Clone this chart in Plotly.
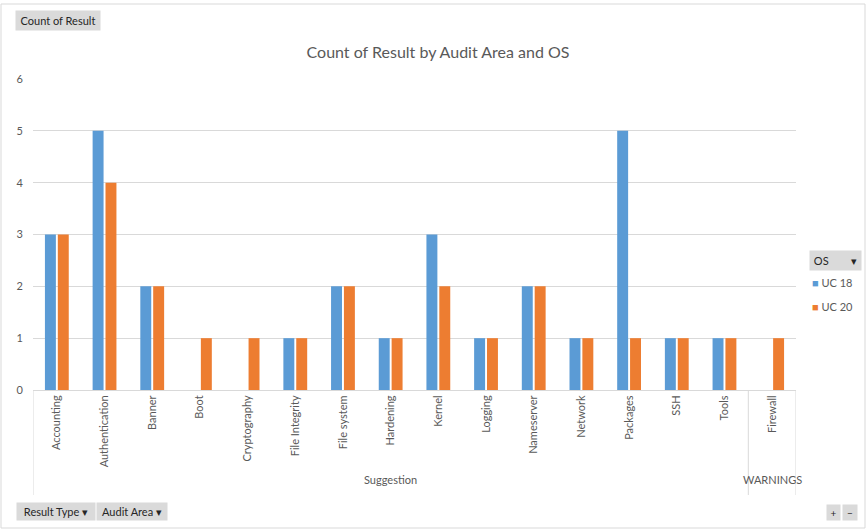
import plotly.graph_objects as go

categories = ["Accounting", "Authentication", "Banner", "Boot", "Cryptography",
              "File Integrity", "File system", "Hardening", "Kernel", "Logging",
              "Nameserver", "Network", "Packages", "SSH", "Tools", "Firewall"]
groups = ["Suggestion"] * 15 + ["WARNINGS"]
uc18 = [3, 5, 2, None, None, 1, 2, 1, 3, 1, 2, 1, 5, 1, 1, None]
uc20 = [3, 4, 2, 1, 1, 1, 2, 1, 2, 1, 2, 1, 1, 1, 1, 1]
series_names = ["UC 18", "UC 20"]
colors = ["#5B9BD5", "#ED7D31"]
y_ticks = [0, 1, 2, 3, 4, 5, 6]

W, H = 867, 530
L, R, T, B = 33, 796, 79, 390
pw, ph = R - L, B - T

def px(x):
    return (x - L) / pw

def py(y):
    return (B - y) / ph

FONT = "Lato, 'Open Sans', sans-serif"
TXT = "#595959"

fig = go.Figure()
for name, vals, c in zip(series_names, [uc18, uc20], colors):
    fig.add_trace(go.Bar(x=categories, y=vals, name=name, marker_color=c,
                         marker_line_width=0, showlegend=False))

shapes = []
# group dividers below the category axis
for xv in [-0.5, len(categories) - 1.5, len(categories) - 0.5]:
    shapes.append(dict(type="line", xref="x", yref="paper", x0=xv, x1=xv,
                       y0=0, y1=py(495), line=dict(color="#D9D9D9", width=1)))
# outer chart border
shapes.append(dict(type="rect", xref="paper", yref="paper",
                   x0=px(1), x1=px(865), y0=py(4), y1=py(528),
                   line=dict(color="#D9D9D9", width=1), fillcolor="rgba(0,0,0,0)"))

annotations = []
# group labels
n_sug = groups.count("Suggestion")
annotations.append(dict(text="Suggestion", xref="x", yref="paper",
                        x=(n_sug - 1) / 2, y=py(488), showarrow=False,
                        font=dict(family=FONT, size=11, color=TXT)))
annotations.append(dict(text="WARNINGS", xref="x", yref="paper",
                        x=len(categories) - 1, y=py(488), showarrow=False,
                        font=dict(family=FONT, size=11, color=TXT)))

def button(text, x0, x1, y0, y1, size=11):
    annotations.append(dict(text=text, xref="paper", yref="paper",
                            x=px((x0 + x1) / 2), y=py((y0 + y1) / 2),
                            xanchor="center", yanchor="middle", showarrow=False,
                            width=x1 - x0, height=y1 - y0, bgcolor="#DADADA",
                            borderpad=0, font=dict(family=FONT, size=size, color="#262626")))

button("Count of Result", 16, 100, 11, 30)
button("Result Type ▾", 17, 95, 503, 520)
button("Audit Area ▾", 97, 167, 503, 520)
button("OS        ▾", 810, 861, 251, 270)
button("+", 827, 840, 505, 520, size=10)
button("−", 843, 857, 505, 520, size=10)

# legend entries
for i, (name, c) in enumerate(zip(series_names, colors)):
    annotations.append(dict(
        text=f"<span style='color:{c}'>■</span> {name}", xref="paper", yref="paper",
        x=px(810), y=py(282 + 24 * i), xanchor="left", yanchor="middle", showarrow=False,
        font=dict(family=FONT, size=11, color=TXT)))

fig.update_layout(
    width=W, height=H,
    margin=dict(l=L, r=W - R, t=T, b=H - B, autoexpand=False),
    paper_bgcolor="white", plot_bgcolor="white",
    showlegend=False,
    title=dict(text="Count of Result by Audit Area and OS", x=438 / W, xanchor="center",
               xref="container", y=1 - 52 / H, yanchor="middle",
               font=dict(family=FONT, size=16, color=TXT)),
    barmode="group", bargap=0.46, bargroupgap=0.15,
    xaxis=dict(type="category", tickangle=-90, showgrid=False, showline=True,
               linecolor="#D9D9D9", ticks="", tickfont=dict(family=FONT, size=11, color=TXT),
               range=[-0.5, len(categories) - 0.5]),
    yaxis=dict(range=[0, 6], tickvals=y_ticks, showgrid=True, gridcolor="#D9D9D9",
               zeroline=False, showline=False, ticks="", ticklabelstandoff=9,
               tickfont=dict(family=FONT, size=11, color=TXT)),
    shapes=shapes, annotations=annotations,
)

fig.write_html("out.html")
